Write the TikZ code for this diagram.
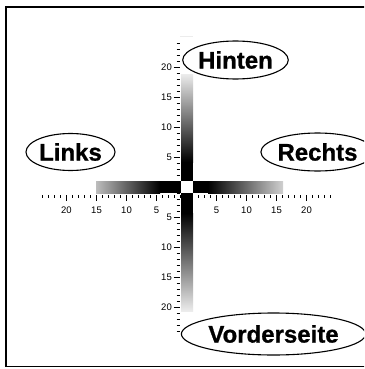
\documentclass[tikz,border=0pt]{standalone}
\usepackage{fontspec}
\setmainfont{Liberation Sans}
\usetikzlibrary{shapes.geometric}
\definecolor{endgrayL}{HTML}{BDBDBD}
\definecolor{endgrayR}{HTML}{D0D0D0}
\definecolor{endgrayV}{HTML}{ECECEC}
\begin{document}
\begin{tikzpicture}[x=1pt,y=-1pt,
  lbl/.style={ellipse,draw,line width=1.1pt,inner sep=0pt,font=\fontsize{24}{27}\selectfont\bfseries\addfontfeatures{FakeBold=0.8}},
  ticklbl/.style={font=\fontsize{9.5}{11}\selectfont,inner sep=0pt},
  tk/.style={line width=1.9pt},
  tkmaj/.style={line width=1.7pt}]
\clip (0,0) rectangle (364,369);
\fill[white] (0,0) rectangle (364,369);
\draw[line width=1.6pt] (5.8,6.8) rectangle (380,366.5);
% horizontal axis ticks
\foreach \i in {-24,...,24}{
  \draw[tk] ({186.5+6*\i},195) -- ({186.5+6*\i},198);
}
\foreach \i in {-20,-15,...,20}{
  \draw[tkmaj] ({186.5+6*\i},195) -- ({186.5+6*\i},201);
}
% vertical axis ticks
\foreach \i in {-24,...,24}{
  \draw[tk] (176.5,{187.5+6*\i}) -- (179.5,{187.5+6*\i});
}
\foreach \i in {-20,-15,...,20}{
  \draw[tkmaj] (173.5,{187.5+6*\i}) -- (179.5,{187.5+6*\i});
}
% tick labels
\foreach \v in {5,10,15,20}{
  \node[ticklbl] (hl\v) at ({186.5-6*\v},210) {\v};
  \node[ticklbl] (hr\v) at ({186.5+6*\v},210) {\v};
  \node[ticklbl,anchor=east] (vt\v) at (172,{187.5-6*\v}) {\v};
  \node[ticklbl,anchor=east] (vb\v) at (172,{187.5+6*\v}) {\v};
}
% bars
\shade[left color=endgrayL,right color=black] (96,181) rectangle (160,193);
\fill[black] (160,181) rectangle (181,193);
\fill[black] (193,181) rectangle (208,193);
\shade[left color=black,right color=endgrayR] (208,181) rectangle (283,193);
\shade[top color=endgrayV,bottom color=black] (181,74) rectangle (193,162);
\fill[black] (181,162) rectangle (193,181);
\fill[black] (181,193) rectangle (193,213);
\shade[top color=black,bottom color=endgrayV] (181,213) rectangle (193,311);
\fill[white] (181,181) rectangle (193,193);
\draw[endgrayV,line width=0.8pt] (180,36) -- (193,36);
% labels
\node[lbl,minimum width=90pt,minimum height=38pt] (hinten) at (235.5,60) {Hinten};
\node[lbl,minimum width=89pt,minimum height=37pt] (links) at (70.5,152) {Links};
\node[lbl,minimum width=93pt,minimum height=38pt] (rechts) at (317.5,152) {Rechts};
\node[lbl,minimum width=165pt,minimum height=42pt] (vorne) at (273.5,334) {Vorderseite};
\end{tikzpicture}
\end{document}
